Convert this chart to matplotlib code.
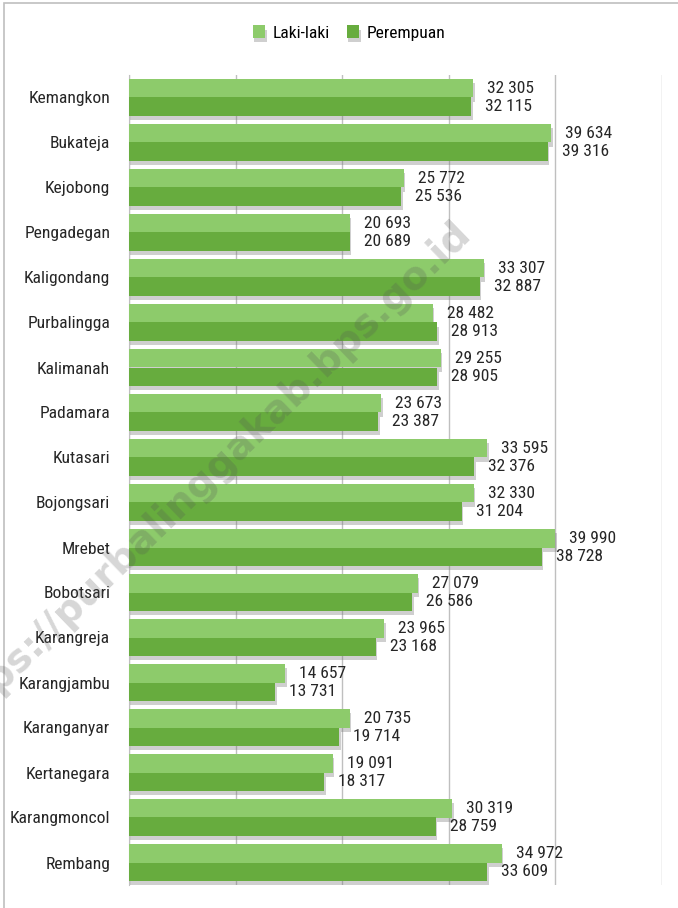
import matplotlib
matplotlib.use("Agg")
import matplotlib.pyplot as plt
import matplotlib.patheffects as pe
from matplotlib.patches import Rectangle
from matplotlib import font_manager as fm
import numpy as np

# choose a condensed font if one is installed
cond_stretches = ("condensed", "semi-condensed", "extra-condensed")
pref = ["Liberation Sans Narrow", "Roboto Condensed", "Open Sans Condensed",
        "DejaVu Sans Condensed", "Noto Sans Condensed", "Noto Sans", "Open Sans",
        "DejaVu Sans", "Roboto"]
avail = {}
for f in fm.fontManager.ttflist:
    if f.style == "normal" and f.weight in (400, "normal", "regular", "book"):
        key = f.name
        if f.stretch in cond_stretches or "Narrow" in f.name or "Condensed" in f.name:
            avail.setdefault(key, f)
chosen = None
for p in pref:
    if p in avail:
        chosen = avail[p]
        break
if chosen is None and avail:
    chosen = list(avail.values())[0]
if chosen is not None:
    FP = dict(fontproperties=fm.FontProperties(fname=chosen.fname))
    base_size = 12.6
else:
    FP = dict(fontproperties=fm.FontProperties(family="DejaVu Sans"))
    base_size = 9.5

categories = ["Kemangkon", "Bukateja", "Kejobong", "Pengadegan", "Kaligondang",
              "Purbalingga", "Kalimanah", "Padamara", "Kutasari", "Bojongsari",
              "Mrebet", "Bobotsari", "Karangreja", "Karangjambu", "Karanganyar",
              "Kertanegara", "Karangmoncol", "Rembang"]
laki = [32305, 39634, 25772, 20693, 33307, 28482, 29255, 23673, 33595, 32330,
        39990, 27079, 23965, 14657, 20735, 19091, 30319, 34972]
perempuan = [32115, 39316, 25536, 20689, 32887, 28913, 28905, 23387, 32376, 31204,
             38728, 26586, 23168, 13731, 19714, 18317, 28759, 33609]
series_names = ["Laki-laki", "Perempuan"]

W, H = 678, 908
fig = plt.figure(figsize=(W / 100, H / 100), dpi=100)
ax = fig.add_axes([129 / W, 1 - 885 / H, (662 - 129) / W, (885 - 75) / H])

c_laki = "#8DCB6B"
c_per = "#67AC3E"
y = np.arange(len(categories))
h = 0.41
shadow = [pe.SimplePatchShadow(offset=(1, -3), shadow_rgbFace="#777777", alpha=0.35), pe.Normal()]
b1 = ax.barh(y - 0.205, laki, height=h, color=c_laki, label=series_names[0], zorder=3)
b2 = ax.barh(y + 0.205, perempuan, height=h, color=c_per, label=series_names[1], zorder=3)
for b in list(b1) + list(b2):
    b.set_path_effects(shadow)

ax.set_xlim(0, 50000)
ax.set_ylim(len(categories) - 0.5, -0.5)
ax.set_xticks([0, 10000, 20000, 30000, 40000, 50000])
ax.tick_params(axis='x', length=0, labelbottom=False)
ax.grid(axis='x', color="#BFBFBF", linewidth=1.0, zorder=0)
for s in ["top", "right", "bottom"]:
    ax.spines[s].set_visible(False)
ax.spines["left"].set_color("#BFBFBF")
ax.spines["left"].set_zorder(1)

ax.set_yticks(y)
ax.set_yticklabels(categories, color="#262626")
for t in ax.get_yticklabels():
    t.set_fontproperties(FP["fontproperties"])
    t.set_fontsize(base_size)
ax.tick_params(axis='y', length=0, pad=13.5)


def fmt(v):
    return f"{v:,}".replace(",", " ")


for yi, v in zip(y, laki):
    ax.annotate(fmt(v), (v, yi - 0.205), xytext=(14, 0), textcoords="offset pixels",
                va="center", ha="left", color="#262626", zorder=5,
                fontproperties=FP["fontproperties"], fontsize=base_size)
for yi, v in zip(y, perempuan):
    ax.annotate(fmt(v), (v, yi + 0.205), xytext=(14, 0), textcoords="offset pixels",
                va="center", ha="left", color="#262626", zorder=5,
                fontproperties=FP["fontproperties"], fontsize=base_size)

lp = FP["fontproperties"].copy()
lp.set_size(base_size)
fig.legend(handles=[b1, b2], labels=series_names, loc="center",
           bbox_to_anchor=(349 / W, 1 - 33 / H), ncol=2, frameon=False,
           handlelength=0.7, handleheight=0.7, columnspacing=1.0,
           handletextpad=0.4, prop=lp)

fig.patches.append(Rectangle((4 / W, -0.05), 1.2, 1.05 - 3 / H, transform=fig.transFigure,
                             fill=False, edgecolor="#BFBFBF", linewidth=1.2))

fig.text(205 / W, 1 - 478 / H, "https://purbalinggakab.bps.go.id", rotation=44,
         rotation_mode="anchor", ha="center", va="center", fontsize=28,
         fontweight="bold", family=["DejaVu Sans"], color="#555555", alpha=0.24, zorder=10)

fig.savefig("out.png", dpi=100)
